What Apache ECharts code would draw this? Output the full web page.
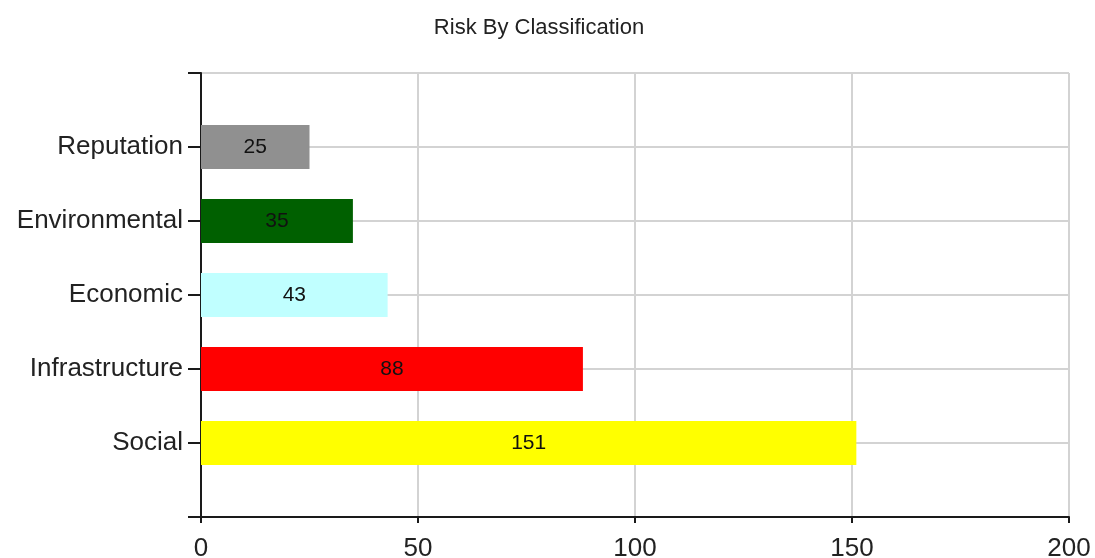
<!DOCTYPE html>
<html>
<head>
<meta charset="utf-8">
<script src="https://cdn.jsdelivr.net/npm/echarts@6/dist/echarts.min.js"></script>
<style>html,body{margin:0;padding:0;background:#fff;}#c{width:1095px;height:558px;}</style>
</head>
<body>
<div id="c"></div>
<script>
const title = 'Risk By Classification';
const categories = ['Social', 'Infrastructure', 'Economic', 'Environmental', 'Reputation'];
const values = [151, 88, 43, 35, 25];
const barColors = ['#ffff00', '#ff0000', '#c0ffff', '#006000', '#909090'];
const xTicks = [0, 50, 100, 150, 200];

// pad with empty slots so categories sit half-way like the original chart
const yCats = [''].concat(categories, ['']);
const barData = [null].concat(values.map((v, i) => ({value: v, itemStyle: {color: barColors[i]}})), [null]);

const chart = echarts.init(document.getElementById('c'), null, {renderer: 'canvas'});
chart.setOption({
  animation: false,
  backgroundColor: '#ffffff',
  title: {
    text: title, left: 534, top: 12, textAlign: 'center',
    textStyle: {fontFamily: 'Liberation Sans', fontSize: 22, fontWeight: 'normal', color: '#222'}
  },
  grid: {left: 201, right: 26, top: 73, bottom: 41, containLabel: false, outerBoundsMode: 'none'},
  xAxis: {
    type: 'value', min: xTicks[0], max: xTicks[xTicks.length - 1], interval: 50,
    axisLine: {show: true, onZero: false, lineStyle: {color: '#1a1a1a', width: 2}},
    axisTick: {show: true, length: 6, lineStyle: {color: '#1a1a1a', width: 2}},
    axisLabel: {fontFamily: 'Liberation Sans', fontSize: 26, color: '#222', margin: 19},
    splitLine: {show: true, lineStyle: {color: '#d3d3d3', width: 2}}
  },
  yAxis: {
    type: 'category', data: yCats, boundaryGap: false,
    axisLine: {show: true, lineStyle: {color: '#1a1a1a', width: 2}},
    axisTick: {show: true, length: 13, interval: 0, lineStyle: {color: '#1a1a1a', width: 2}},
    axisLabel: {interval: 0, fontFamily: 'Liberation Sans', fontSize: 26, color: '#222', margin: 18},
    splitLine: {show: true, interval: 0, lineStyle: {color: '#d3d3d3', width: 2}}
  },
  series: [{
    type: 'bar', data: barData, barWidth: 44,
    label: {show: true, position: 'inside', color: '#111', fontFamily: 'Liberation Sans', fontSize: 21},
    emphasis: {disabled: true}
  }]
});
</script>
</body>
</html>
